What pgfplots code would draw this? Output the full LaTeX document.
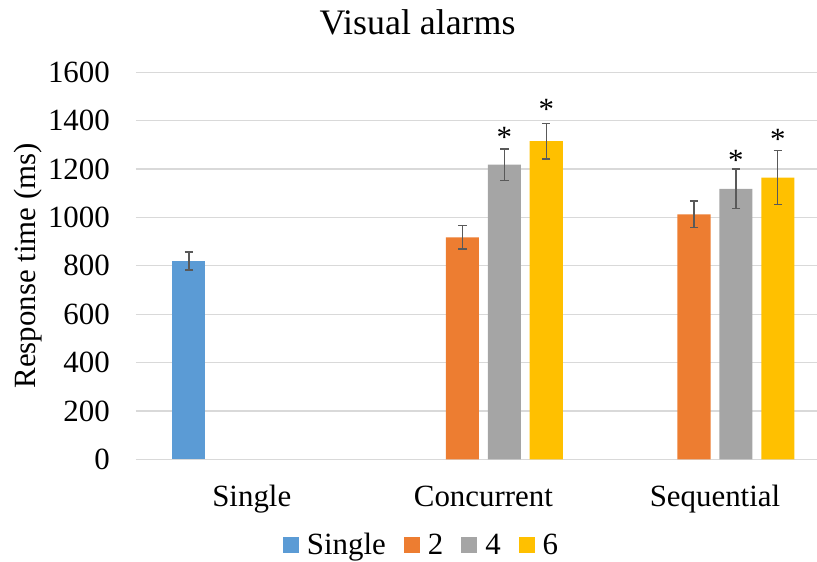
\documentclass[border=0pt]{standalone}
\usepackage{pgfplots}
\pgfplotsset{compat=1.18}
\usepackage{fontspec}
\setmainfont{Liberation Serif}
\definecolor{cblue}{HTML}{5B9BD5}
\definecolor{corange}{HTML}{ED7D31}
\definecolor{cgray}{HTML}{A5A5A5}
\definecolor{cgold}{HTML}{FFC000}
\definecolor{gridgray}{HTML}{D9D9D9}
\definecolor{errgray}{HTML}{595959}
\begin{document}
\begin{tikzpicture}
\pgfplotsset{
  errstyle/.style={error bars/.cd, y dir=both, y explicit,
    error bar style={line width=1.3bp, color=errgray},
    error mark options={rotate=90, mark size=4.2bp, line width=1.3bp, color=errgray}},
}
\begin{axis}[name=ax,
  width=681bp, height=387bp, scale only axis,
  xmin=-0.5, xmax=2.4406, ymin=0, ymax=1600,
  ytick={0,200,...,1600},
  xtick={0,1,2}, xticklabels={Single,Concurrent,Sequential},
  axis line style={draw=none},
  major tick length=0pt,
  ymajorgrids, grid style={color=gridgray, line width=1.2bp},
  /pgf/number format/assume math mode=true,
  /pgf/number format/1000 sep={},
  tick label style={font=\fontsize{31}{36}\selectfont},
  yticklabel style={anchor=east, inner sep=0pt, xshift=-26bp},
  xticklabel style={anchor=base, inner sep=0pt, yshift=-46.7bp},
  every axis y label/.style={at={(rel axis cs:0,0.5)}, rotate=90, anchor=base, yshift=100.5bp, font=\fontsize{31}{36}\selectfont, inner sep=0pt},
  ylabel={Response time (ms)},
  title={Visual alarms},
  title style={at={(rel axis cs:0.4134,1.0835)}, anchor=base, font=\fontsize{36}{42}\selectfont, inner sep=0pt},
  legend style={at={(rel axis cs:0.4178,-0.2215)}, anchor=center, draw=none, fill=none,
    legend columns=4, font=\fontsize{31}{36}\selectfont,
    nodes={inner sep=0pt},
    /tikz/every odd column/.append style={column sep=8bp},
    /tikz/every even column/.append style={column sep=18bp}},
  legend image code/.code={\fill[#1] (0bp,-8bp) rectangle (16bp,8bp);},
]
\addplot[ybar, bar width=0.1426, bar shift=0, fill=cblue, draw=none, errstyle]
  coordinates {(-0.2715,820) +- (0,37)};
\addlegendentry{Single}
\addplot[ybar, bar width=0.1426, bar shift=0, fill=corange, draw=none, errstyle]
  coordinates {(0.9095,918) +- (0,48) (1.9095,1013) +- (0,55)};
\addlegendentry{2}
\addplot[ybar, bar width=0.1426, bar shift=0, fill=cgray, draw=none, errstyle]
  coordinates {(1.0905,1218) +- (0,65) (2.0905,1118) +- (0,82)};
\addlegendentry{4}
\addplot[ybar, bar width=0.1426, bar shift=0, fill=cgold, draw=none, errstyle]
  coordinates {(1.2715,1315) +- (0,74) (2.2715,1165) +- (0,111)};
\addlegendentry{6}
\addplot[forget plot, only marks, mark=none, draw=none,
  nodes near coords={*},
  every node near coord/.append style={anchor=base, yshift=-15.5bp, inner sep=0pt, text=black, font=\fontsize{31}{36}\selectfont}]
  coordinates {(1.0905,1354) (1.2715,1469) (2.0905,1258) (2.2715,1345)};
\end{axis}
\pgfresetboundingbox
\path[use as bounding box] ([xshift=-136bp,yshift=-102.7bp]ax.south west) rectangle ([yshift=72.3bp]ax.north east);
\end{tikzpicture}
\end{document}
